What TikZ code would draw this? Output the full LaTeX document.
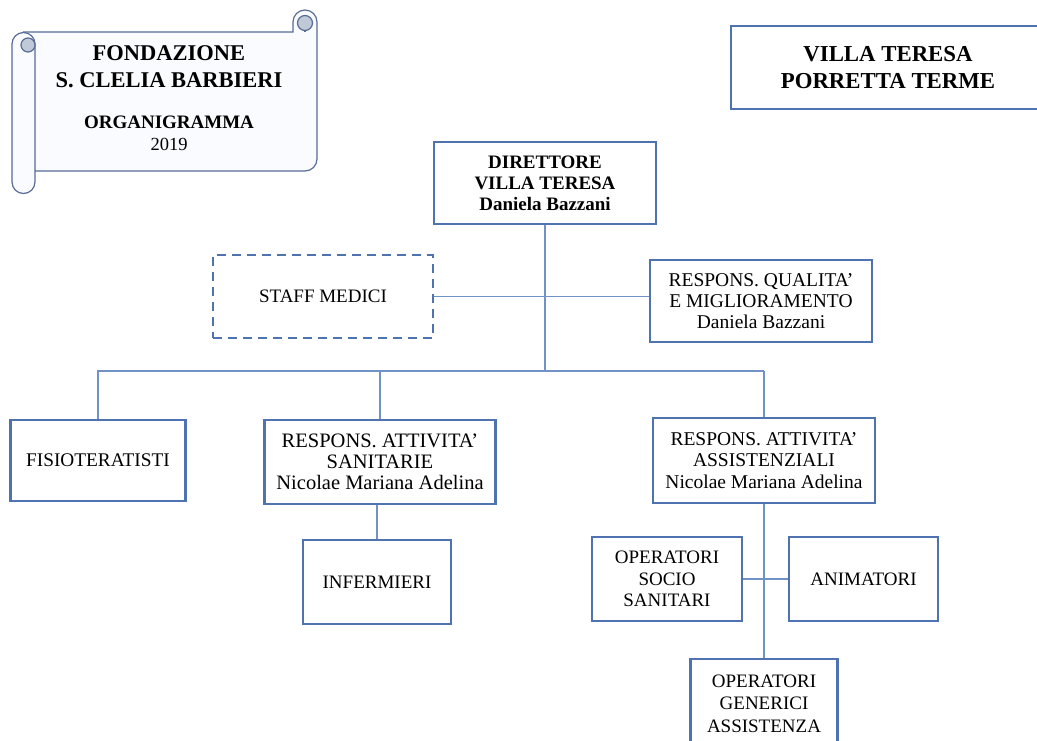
\documentclass[tikz,border=0pt]{standalone}
\usepackage{fontspec}
\setmainfont{Liberation Serif}
\usetikzlibrary{calc,positioning}
\definecolor{boxblue}{RGB}{79,114,176}
\definecolor{lineblue}{RGB}{112,146,198}
\definecolor{scrollline}{RGB}{88,108,150}
\definecolor{scrollfill}{RGB}{250,251,254}
\definecolor{curlfill}{RGB}{192,201,216}

\begin{document}
\begin{tikzpicture}
	[   x=1pt,y=-1pt,
		rbox/.style={draw=boxblue,line width=2.3pt,fill=white,align=center,inner sep=0pt,font=\fontsize{19}{21.5}\selectfont},
		bbox/.style={rbox,font=\bfseries\fontsize{19}{21}\selectfont},
	]
	\tikzset{link/.style={draw=lineblue,line width=1.4pt}}
	\tikzset{scrollpen/.style={draw=scrollline,line width=1.2pt,fill=scrollfill}}
	\useasboundingbox (0,0) rectangle (1037,740);
	
	% scroll
	\path[scrollpen] (23.5,32) -- (293,32) -- (293,22) arc[start angle=180,end angle=360,radius=12] -- (317,159) arc[start angle=0,end angle=90,radius=12] -- (23.5,171) -- cycle;
	\path[scrollpen] (35,182) arc[start angle=0,end angle=180,radius=11.5] -- (12,44) arc[start angle=180,end angle=360,radius=11.5] -- cycle;
	\path[scrollpen,fill=curlfill] (28,45) circle[radius=7];
	\path[scrollpen,fill=curlfill] (305,23) circle[radius=7.5];
	\draw[scrollline,line width=1.2pt] (305,30.5) -- (305,32);
	\node[font=\bfseries\fontsize{22.5}{27}\selectfont,align=center] (fond) at (169,67) {FONDAZIONE\\S. CLELIA BARBIERI};
	\node[font=\bfseries\fontsize{19}{21}\selectfont] (organ) at (169,122) {ORGANIGRAMMA};
	\node[font=\fontsize{18.5}{21}\selectfont] (anno) at (169,144.5) {2019};
	
	\node[rbox,minimum width=314,minimum height=83,font=\bfseries\fontsize{22.8}{27}\selectfont] (villa) at (888,67.5) {VILLA TERESA\\PORRETTA TERME};
	
	\node[bbox,minimum width=222,minimum height=82] (dir) at (545,183) {DIRETTORE\\VILLA TERESA\\Daniela Bazzani};
	\node[rbox,dashed,dash pattern=on 9pt off 6pt,minimum width=220,minimum height=83] (staff) at (323,296.5) {STAFF MEDICI};
	\node[rbox,minimum width=222,minimum height=82,font=\fontsize{19.5}{21}\selectfont] (qual) at (761,301) {RESPONS. QUALITA'\\E MIGLIORAMENTO\\Daniela Bazzani};
	
	\node[rbox,minimum width=175,minimum height=81,font=\fontsize{19.3}{21}\selectfont] (fisio) at (98,460.5) {FISIOTERATISTI};
	\node[rbox,minimum width=231,minimum height=84,font=\fontsize{20.5}{21}\selectfont] (san) at (380,462) {RESPONS. ATTIVITA'\\SANITARIE\\Nicolae Mariana Adelina};
	\node[rbox,minimum width=222,minimum height=85,font=\fontsize{19.5}{21.5}\selectfont] (ass) at (764,460.5) {RESPONS. ATTIVITA'\\ASSISTENZIALI\\Nicolae Mariana Adelina};
	
	\node[rbox,minimum width=148,minimum height=84] (inf) at (377,582) {INFERMIERI};
	\node[rbox,minimum width=150,minimum height=84] (oss) at (667,579) {OPERATORI\\SOCIO\\SANITARI};
	\node[rbox,minimum width=149,minimum height=84] (anim) at (863.5,579) {ANIMATORI};
	\node[rbox,minimum width=147,minimum height=89,font=\fontsize{19}{22.5}\selectfont] (gen) at (764,703.5) {OPERATORI\\GENERICI\\ASSISTENZA};
	
	\coordinate (bus) at (545,371);
	\path[link] (dir) -- (bus);
	\path[link] (staff.east) -- (staff.east -| qual.west);
	\path[link] (fisio.north) |- (ass.north |- bus);
	\foreach \n in {fisio,san,ass}
	{
		\path[link] (\n.north) -- (\n.north |- bus);
	}
	\path[link] (inf.north) -- (inf.north |- san.south);
	\path[link] (gen.north) -- (gen.north |- ass.south);
	\path[link] (oss.east) -- (anim.west);
\end{tikzpicture}
\end{document}
